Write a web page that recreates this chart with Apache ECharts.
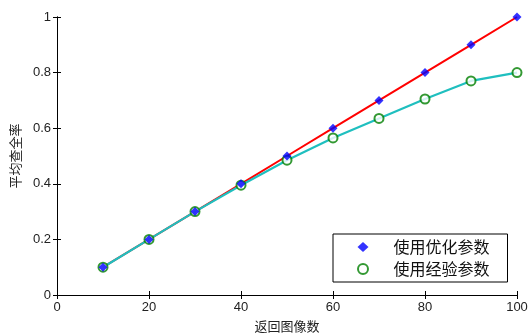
<!DOCTYPE html>
<html><head><meta charset="utf-8">
<script src="https://cdn.jsdelivr.net/npm/echarts@6/dist/echarts.min.js"></script>
<style>html,body{margin:0;padding:0;background:#fff}#c{width:528px;height:333px}</style>
</head><body><div id="c"></div>
<script>
const returnedImages = [10, 20, 30, 40, 50, 60, 70, 80, 90, 100];
const optimizedRecall = [0.1, 0.2, 0.3, 0.4, 0.5, 0.6, 0.7, 0.8, 0.9, 1.0];
const empiricalRecall = [0.1, 0.2, 0.3, 0.395, 0.485, 0.565, 0.635, 0.705, 0.77, 0.8];
const seriesNames = ['使用优化参数', '使用经验参数'];
const xLabelName = '返回图像数';
const yLabelName = '平均查全率';

const pair = (ys) => returnedImages.map((x, i) => [x, ys[i]]);
const font = 'Liberation Sans, Arial, sans-serif';
const cjk = 'Noto Sans CJK SC, sans-serif';
const axisCommon = {
  type: 'value',
  axisLine: {show: true, lineStyle: {color: '#000', width: 1}},
  axisTick: {show: true, inside: true, length: 4, lineStyle: {color: '#000'}},
  splitLine: {show: false}
};
const chart = echarts.init(document.getElementById('c'));
chart.setOption({
  animation: false,
  backgroundColor: '#fff',
  grid: {left: 57, right: 11, top: 17, bottom: 38, containLabel: false, outerBoundsMode: 'none'},
  xAxis: [
    Object.assign({}, axisCommon, {
      min: 0, max: 100, interval: 20, position: 'bottom',
      name: xLabelName, nameLocation: 'middle', nameGap: 25,
      nameTextStyle: {fontFamily: cjk, fontSize: 13, color: '#222'},
      axisLabel: {fontFamily: font, fontSize: 13, color: '#222', margin: 6}
    }),
    Object.assign({}, axisCommon, {
      min: 0, max: 100, interval: 20, position: 'top',
      axisLabel: {show: false}
    })
  ],
  yAxis: [
    Object.assign({}, axisCommon, {
      min: 0, max: 1, interval: 0.2, position: 'left',
      name: yLabelName, nameLocation: 'middle', nameGap: 34,
      nameTextStyle: {fontFamily: cjk, fontSize: 13, color: '#222'},
      axisLabel: {fontFamily: font, fontSize: 13, color: '#222', margin: 6,
        formatter: v => String(Math.round(v * 10) / 10)}
    }),
    Object.assign({}, axisCommon, {
      min: 0, max: 1, interval: 0.2, position: 'right',
      axisLabel: {show: false}
    })
  ],
  legend: {
    orient: 'vertical', left: 333, top: 234,
    data: seriesNames,
    borderColor: '#000', borderWidth: 1, borderRadius: 0,
    backgroundColor: '#fff',
    padding: [5, 18, 5, 24],
    itemGap: 6, itemWidth: 11, itemHeight: 10,
    textStyle: {fontFamily: cjk, fontSize: 16, lineHeight: 16, color: '#111', padding: [0, 0, 0, 20]}
  },
  series: [
    {type: 'line', name: 'optLine', data: pair(optimizedRecall), showSymbol: false,
     lineStyle: {color: '#ff0000', width: 2}, z: 2},
    {type: 'line', name: 'empLine', data: pair(empiricalRecall), showSymbol: false,
     lineStyle: {color: '#1fbfbf', width: 2.2}, z: 3},
    {type: 'scatter', name: seriesNames[1], data: pair(empiricalRecall),
     symbol: 'emptyCircle', symbolSize: 9,
     itemStyle: {color: '#008000', borderColor: '#008000', borderWidth: 1.8}, z: 4},
    {type: 'scatter', name: seriesNames[0], data: pair(optimizedRecall),
     symbol: 'diamond', symbolSize: 9,
     itemStyle: {color: '#0000ff'}, z: 5}
  ]
});
</script></body></html>
